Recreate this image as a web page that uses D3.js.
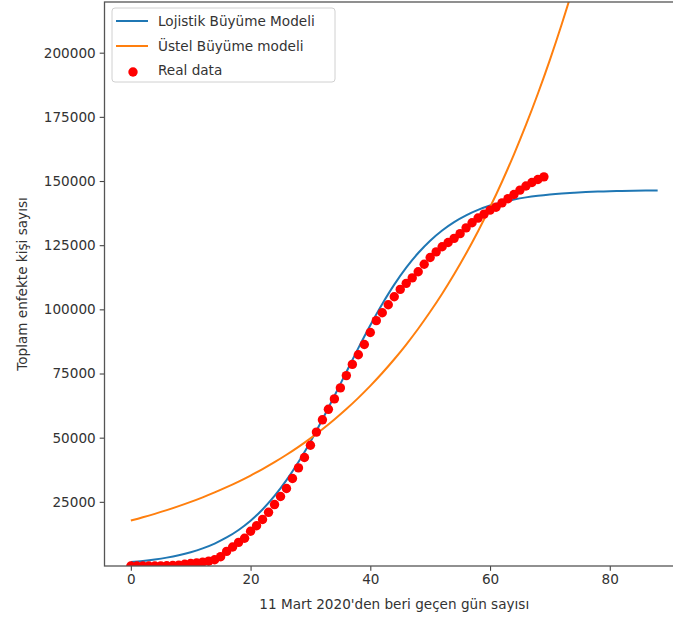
<!DOCTYPE html>
<html>
<head>
<meta charset="utf-8">
<script src="https://cdn.jsdelivr.net/npm/d3@7"></script>
<style>
  html, body { margin: 0; padding: 0; background: #fff; }
  svg { display: block; font-family: "DejaVu Sans", sans-serif; }
</style>
</head>
<body>
<svg id="chart" width="673" height="622"></svg>
<script>
// ---- data ----
const realDays = d3.range(0, 70);
const realCases = [1, 1, 5, 6, 18, 47, 98, 191, 359, 670, 947, 1236, 1529, 1872, 2433, 3629, 5698, 7402, 9217, 10827,
  13531, 15679, 18135, 20921, 23934, 27069, 30217, 34109, 38226, 42282, 47029, 52167, 56956, 61049, 65111, 69392,
  74193, 78546, 82329, 86306, 90980, 95591, 98674, 101790, 104912, 107773, 110130, 112261, 114653, 117589, 120204,
  122392, 124375, 126045, 127659, 129491, 131744, 133721, 135569, 137115, 138657, 139771, 141475, 143114, 144749,
  146457, 148067, 149435, 150593, 151615];

const modelDays = d3.range(0, 89, 2);
const logisticValues = [1531, 1972, 2539, 3263, 4187, 5366, 6862, 8752, 11115, 14046, 17672, 22030, 27281, 33447,
  40514, 48446, 57093, 66230, 75593, 84888, 93808, 102119, 109639, 116251, 121941, 126752, 130733, 133998, 136635,
  138744, 140433, 141751, 142801, 143627, 144264, 144763, 145151, 145454, 145690, 145873, 146014, 146123, 146209,
  146275, 146326];
const exponentialValues = [17700, 18962, 20314, 21763, 23315, 24977, 26758, 28666, 30710, 32900, 35246, 37759, 40452,
  43336, 46426, 49737, 53283, 57083, 61153, 65514, 70185, 75190, 80551, 86295, 92448, 99040, 106102, 113668, 121773,
  130456, 139758, 149724, 160400, 171837, 184090, 197217, 211280, 226345, 242485, 259775, 278299, 298143, 319402,
  342177, 366576];

const xTicks = [0, 20, 40, 60, 80];
const yTicks = [25000, 50000, 75000, 100000, 125000, 150000, 175000, 200000];
const xDomain = [-4.4, 92.4];
const yDomain = [0.9, 219750];

const legendLabels = ["Lojistik Büyüme Modeli", "Üstel Büyüme modeli", "Real data"];
const xLabel = "11 Mart 2020'den beri geçen gün sayısı";
const yLabel = "Toplam enfekte kişi sayısı";

// ---- layout ----
const svg = d3.select("#chart");
const pL = 104.5, pT = 2, pB = 566, pR = 684;
const x = d3.scaleLinear().domain(xDomain).range([pL, pR]);
const y = d3.scaleLinear().domain(yDomain).range([pB, pT]);
const fs = 13.6;
const BLUE = "#1f77b4", ORANGE = "#ff7f0e", RED = "#ff0000";

svg.append("defs").append("clipPath").attr("id", "clip")
  .append("rect").attr("x", pL).attr("y", pT).attr("width", pR - pL).attr("height", pB - pT);

const plot = svg.append("g").attr("clip-path", "url(#clip)");

const line = d3.line().curve(d3.curveCatmullRom.alpha(0.5))
  .x((d, i) => x(modelDays[i]))
  .y(d => y(d));

plot.append("path")
  .attr("d", line(logisticValues))
  .attr("fill", "none").attr("stroke", BLUE).attr("stroke-width", 2);

plot.append("path")
  .attr("d", line(exponentialValues))
  .attr("fill", "none").attr("stroke", ORANGE).attr("stroke-width", 2);

plot.selectAll("circle.real").data(realCases).join("circle")
  .attr("class", "real")
  .attr("cx", (d, i) => x(realDays[i]))
  .attr("cy", d => y(d))
  .attr("r", 4.7)
  .attr("fill", RED);

// ---- axes ----
const xAxis = d3.axisBottom(x).tickValues(xTicks).tickSize(4.8).tickPadding(4).tickFormat(d3.format("d"));
const yAxis = d3.axisLeft(y).tickValues(yTicks).tickSize(4.8).tickPadding(4).tickFormat(d3.format("d"));

const gx = svg.append("g").attr("transform", `translate(0,${pB})`).call(xAxis);
const gy = svg.append("g").attr("transform", `translate(${pL},0)`).call(yAxis);
[gx, gy].forEach(g => {
  g.select(".domain").remove();
  g.selectAll(".tick line").attr("stroke", "#444").attr("stroke-width", 1.1);
  g.selectAll(".tick text").attr("fill", "#333").style("font-size", fs + "px")
    .style("font-family", "'DejaVu Sans', sans-serif");
});

// spines
svg.append("rect").attr("x", pL).attr("y", pT).attr("width", pR - pL).attr("height", pB - pT)
  .attr("fill", "none").attr("stroke", "#555").attr("stroke-width", 1.3);

// axis labels
svg.append("text").attr("x", (pL + pR) / 2).attr("y", 609)
  .attr("text-anchor", "middle").attr("fill", "#333").style("font-size", fs + "px").text(xLabel);
svg.append("text").attr("transform", `translate(27,${(pT + pB) / 2}) rotate(-90)`)
  .attr("text-anchor", "middle").attr("fill", "#333").style("font-size", fs + "px").text(yLabel);

// ---- legend ----
const lg = svg.append("g");
lg.append("rect").attr("x", 112).attr("y", 8).attr("width", 223).attr("height", 74).attr("rx", 3)
  .attr("fill", "rgba(255,255,255,0.8)").attr("stroke", "#d0d0d0").attr("stroke-width", 1);
const rowsY = [21, 46, 70];
lg.append("line").attr("x1", 116).attr("x2", 148).attr("y1", rowsY[0]).attr("y2", rowsY[0])
  .attr("stroke", BLUE).attr("stroke-width", 2);
lg.append("line").attr("x1", 116).attr("x2", 148).attr("y1", rowsY[1]).attr("y2", rowsY[1])
  .attr("stroke", ORANGE).attr("stroke-width", 2);
lg.append("circle").attr("cx", 133).attr("cy", rowsY[2] + 2).attr("r", 4.7).attr("fill", RED);
legendLabels.forEach((t, i) => {
  lg.append("text").attr("x", 158).attr("y", rowsY[i]).attr("dy", "0.35em")
    .attr("fill", "#333").style("font-size", fs + "px").text(t);
});
</script>
</body>
</html>
